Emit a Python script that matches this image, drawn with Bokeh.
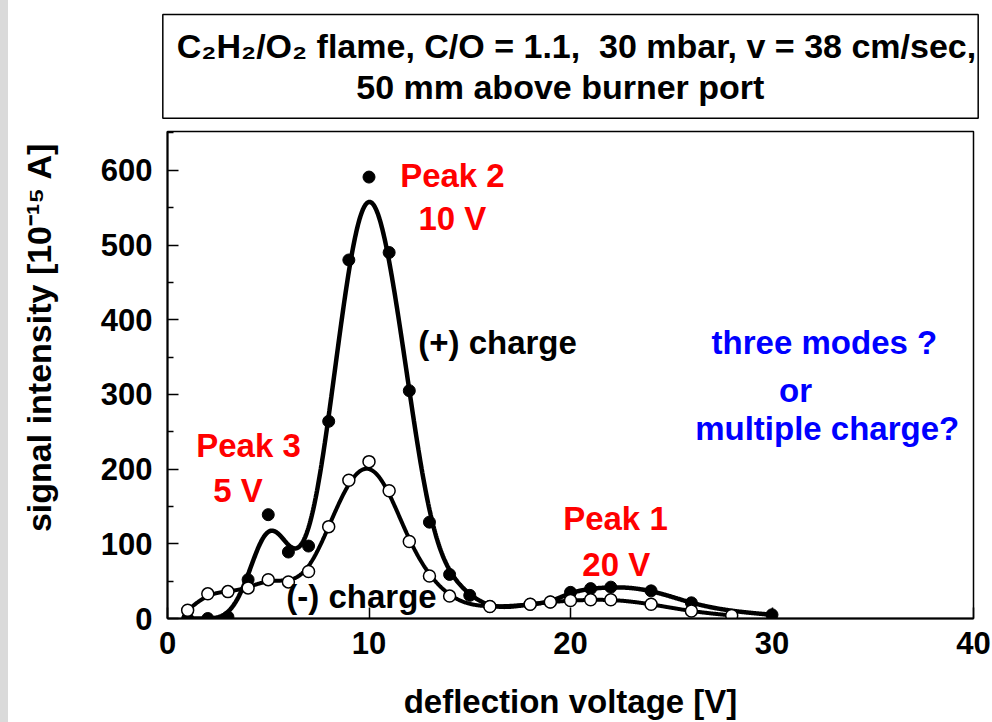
import numpy as np
from bokeh.plotting import figure
from bokeh.layouts import row
from bokeh.models import Range1d, FixedTicker, Div
from bokeh.embed import file_html
from bokeh.resources import INLINE
from bokeh.core.properties import value

# (+) charge: deflection voltage [V] and signal intensity [1e-15 A]
volt_pos = [1, 2, 3, 4, 5, 6, 7, 8, 9, 10, 11, 12, 13, 14, 15, 16, 18, 19, 20, 21, 22, 24, 26, 30]
sig_pos = [0, 0, 2, 52, 139, 89, 97, 264, 480, 591, 490, 305, 129, 59, 31, 16, 19, 22, 35, 40, 42, 37, 21, 5]

# (-) charge
volt_neg = [1, 2, 3, 4, 5, 6, 7, 8, 9, 10, 11, 12, 13, 14, 16, 18, 19, 20, 21, 22, 24, 26, 28]
sig_neg = [11, 33, 36, 41, 52, 49, 63, 123, 185, 210, 171, 103, 57, 30, 16, 19, 22, 24, 25, 25, 19, 10, 4]

x_ticks = [0, 10, 20, 30, 40]
y_ticks = [0, 100, 200, 300, 400, 500, 600]
y_minor = [50, 150, 250, 350, 450, 550, 650]

# the title box lays lines out from the left, so the second line is indented with no-break spaces
title_text = ("C\u2082H\u2082/O\u2082 flame, C/O = 1.1,\u00a0 30 mbar, v = 38 cm/sec,\n"
              + "\u00a0" * 19 + "50 mm above burner port")

FONT = "Liberation Sans"


def natural_spline(x, y, xs):
    x = np.asarray(x, float)
    y = np.asarray(y, float)
    n = len(x)
    h = np.diff(x)
    A = np.zeros((n, n))
    r = np.zeros(n)
    A[0, 0] = A[-1, -1] = 1.0
    for i in range(1, n - 1):
        A[i, i - 1] = h[i - 1]
        A[i, i] = 2 * (h[i - 1] + h[i])
        A[i, i + 1] = h[i]
        r[i] = 6 * ((y[i + 1] - y[i]) / h[i] - (y[i] - y[i - 1]) / h[i - 1])
    m = np.linalg.solve(A, r)
    k = np.clip(np.searchsorted(x, xs) - 1, 0, n - 2)
    t0 = x[k + 1] - xs
    t1 = xs - x[k]
    hk = h[k]
    return (m[k] * t0 ** 3 / (6 * hk) + m[k + 1] * t1 ** 3 / (6 * hk)
            + (y[k] / hk - m[k] * hk / 6) * t0 + (y[k + 1] / hk - m[k + 1] * hk / 6) * t1)


def smooth_curve(x, y, sigma=0.55, n=900):
    """Spline through the points, then a Gaussian smoothing (odd reflection at the ends)."""
    xs = np.linspace(x[0], x[-1], n)
    ys = natural_spline(x, y, xs)
    dx = xs[1] - xs[0]
    pad = int(4 * sigma / dx)
    left = 2 * ys[0] - ys[1:pad + 1][::-1]
    right = 2 * ys[-1] - ys[-pad - 1:-1][::-1]
    yp = np.concatenate([left, ys, right])
    kx = np.arange(-pad, pad + 1) * dx
    kern = np.exp(-0.5 * (kx / sigma) ** 2)
    kern /= kern.sum()
    ysm = np.convolve(yp, kern, mode="same")[pad:pad + n]
    return xs, ysm


p = figure(width=984, height=722, x_range=Range1d(0, 40), y_range=Range1d(0, 652),
           toolbar_location=None, output_backend="svg",
           min_border_left=159, min_border_right=19, min_border_top=131, min_border_bottom=101)
p.grid.visible = False
p.outline_line_color = "black"
p.outline_line_width = 1.5
p.background_fill_color = "white"
p.border_fill_color = "white"

# boxed header with the flame conditions
p.title.text = title_text
p.title.align = "center"
p.title.vertical_align = "top"
p.title.offset = 9
p.title.text_font = FONT
p.title.text_font_style = "bold"
p.title.text_font_size = "34px"
p.title.text_color = "black"
p.title.text_line_height = 1.1
p.title.border_line_color = "black"
p.title.border_line_width = 1.5
p.title.background_fill_color = "white"
p.title.padding = dict(left=14, right=2, top=12, bottom=12)
p.title.standoff = 22

for ax in (p.xaxis[0], p.yaxis[0]):
    ax.axis_line_width = 2
    ax.axis_line_color = "black"
    ax.major_tick_in = 11
    ax.major_tick_out = 0
    ax.major_tick_line_width = 1.5
    ax.major_label_text_font = FONT
    ax.major_label_text_font_style = "bold"
    ax.major_label_text_font_size = "31px"
    ax.major_label_text_color = "black"
    ax.axis_label_text_font = FONT
    ax.axis_label_text_font_style = "bold"
    ax.axis_label_text_font_size = "33px"
    ax.axis_label_text_color = "black"

p.xaxis.ticker = FixedTicker(ticks=x_ticks)
p.xaxis.minor_tick_in = 0
p.xaxis.minor_tick_out = 0
p.xaxis.major_label_standoff = 13
p.xaxis.axis_label = "deflection voltage [V]"
p.xaxis.axis_label_standoff = 26

p.yaxis.ticker = FixedTicker(ticks=y_ticks, minor_ticks=y_minor)
p.yaxis.minor_tick_in = 6
p.yaxis.minor_tick_out = 0
p.yaxis.minor_tick_line_width = 1.5
p.yaxis.major_label_standoff = 15
# leading no-break spaces lift the centred label a little above the frame centre
p.yaxis.axis_label = "\u00a0" * 8 + "signal intensity [10\u207b\u00b9\u2075 A]"
p.yaxis.axis_label_text_font_size = "34px"
p.yaxis.axis_label_standoff = 40

xs_p, ys_p = smooth_curve(volt_pos, sig_pos)
xs_n, ys_n = smooth_curve(volt_neg, sig_neg)
p.line(xs_p, ys_p, line_color="black", line_width=4.5)
p.line(xs_n, ys_n, line_color="black", line_width=4)
p.scatter(volt_pos, sig_pos, marker="circle", size=12, fill_color="black", line_color="black")
p.scatter(volt_neg, sig_neg, marker="circle", size=12, fill_color="white",
          line_color="black", line_width=1.5)

# annotations
red_x = [14.14, 14.14, 4.02, 3.5, 22.23, 22.27]
red_y = [593, 535, 231, 172, 134, 72]
red_txt = ["Peak 2", "10 V", "Peak 3", "5 V", "Peak 1", "20 V"]
p.text(x=red_x, y=red_y, text=red_txt, text_align="center", text_baseline="middle",
       text_font=value(FONT), text_font_style="bold", text_font_size="33px", text_color="#ff0000")

blk_x = [16.38, 9.63]
blk_y = [370, 30]
blk_txt = ["(+) charge", "(-) charge"]
p.text(x=blk_x, y=blk_y, text=blk_txt, text_align="center", text_baseline="middle",
       text_font=value(FONT), text_font_style="bold", text_font_size="33px", text_color="black")

blu_x = [32.6, 31.17, 32.74]
blu_y = [370, 305, 254]
blu_txt = ["three modes ?", "or", "multiple charge?"]
p.text(x=blu_x, y=blu_y, text=blu_txt, text_align="center", text_baseline="middle",
       text_font=value(FONT), text_font_style="bold", text_font_size="33px", text_color="#0000ff")

strip = Div(width=8, height=722, margin=0, styles={"background-color": "#dadada"})
layout = row(strip, p, spacing=0)

open("out.html", "w").write(file_html(layout, INLINE))
